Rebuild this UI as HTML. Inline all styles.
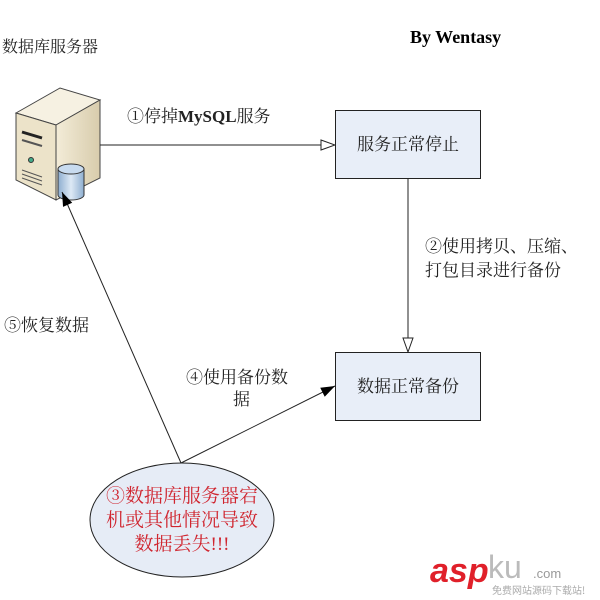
<!DOCTYPE html>
<html><head><meta charset="utf-8"><style>
html,body{margin:0;padding:0;background:#fff;}
svg{display:block;}
.t{font-family:"Liberation Serif","Noto Serif CJK SC","Noto Sans CJK SC",serif;font-size:17px;fill:#222;}
</style></head><body>
<svg width="600" height="600" viewBox="0 0 600 600" xmlns="http://www.w3.org/2000/svg">
<defs>
<marker id="ho" markerWidth="16" markerHeight="12" refX="15" refY="6" orient="auto" markerUnits="userSpaceOnUse">
<path d="M1,1 L15,6 L1,11 Z" fill="#fff" stroke="#222" stroke-width="1"/></marker>
<marker id="fi" markerWidth="16" markerHeight="12" refX="15" refY="6" orient="auto" markerUnits="userSpaceOnUse">
<path d="M1,1 L15,6 L1,11 Z" fill="#000"/></marker>
<linearGradient id="sf" x1="0" x2="1"><stop offset="0" stop-color="#f3ecd8"/><stop offset="1" stop-color="#d8ccac"/></linearGradient>
<linearGradient id="cy" x1="0" x2="1"><stop offset="0" stop-color="#8eaed0"/><stop offset=".5" stop-color="#dde9f5"/><stop offset="1" stop-color="#8eaed0"/></linearGradient>
</defs>
<text x="2" y="52" class="t" style="font-size:16px">数据库服务器</text>
<text x="410" y="43" class="t" style="font-weight:bold;font-size:18px;fill:#000">By Wentasy</text>
<!-- server -->
<polygon points="16,113 60,88 100,100 56,125" fill="#f6f1e2" stroke="#444"/>
<polygon points="16,113 56,125 56,200 16,180" fill="#ece3c9" stroke="#444"/>
<polygon points="56,125 100,100 100,178 56,200" fill="url(#sf)" stroke="#444"/>
<line x1="22" y1="132" x2="42" y2="138" stroke="#222" stroke-width="3"/>
<line x1="22" y1="140" x2="42" y2="146" stroke="#555" stroke-width="2"/>
<circle cx="31" cy="160" r="2.5" fill="#4a8" stroke="#333"/>
<line x1="22" y1="170" x2="42" y2="177" stroke="#555"/>
<line x1="22" y1="174" x2="42" y2="181" stroke="#555"/>
<line x1="22" y1="178" x2="42" y2="185" stroke="#555"/>
<path d="M58,169 L58,195 A13,5 0 0 0 84,195 L84,169 Z" fill="url(#cy)" stroke="#333"/>
<ellipse cx="71" cy="169" rx="13" ry="5" fill="#c8dbef" stroke="#333"/>
<!-- boxes -->
<rect x="335.5" y="110.5" width="145" height="68" fill="#e8eef8" stroke="#222"/>
<text x="408" y="150" text-anchor="middle" class="t">服务正常停止</text>
<rect x="335.5" y="352.5" width="145" height="68" fill="#e8eef8" stroke="#222"/>
<text x="408" y="392" text-anchor="middle" class="t">数据正常备份</text>
<!-- connectors -->
<line x1="100" y1="145" x2="335" y2="145" stroke="#222" marker-end="url(#ho)"/>
<line x1="408" y1="178" x2="408" y2="352" stroke="#222" marker-end="url(#ho)"/>
<line x1="181" y1="463" x2="335" y2="386" stroke="#222" marker-end="url(#fi)"/>
<line x1="181" y1="463" x2="62" y2="192" stroke="#222" marker-end="url(#fi)"/>
<text x="127" y="122" class="t">①停掉<tspan style="font-weight:bold">MySQL</tspan>服务</text>
<text x="425" y="252" class="t">②使用拷贝、压缩、</text>
<text x="425" y="276" class="t">打包目录进行备份</text>
<text x="4" y="331" class="t">⑤恢复数据</text>
<text x="186" y="383" class="t">④使用备份数</text>
<text x="233" y="405" class="t">据</text>
<ellipse cx="182" cy="520" rx="92" ry="57" fill="#e6ecf6" stroke="#222"/>
<text x="182" y="502" text-anchor="middle" class="t" style="fill:#d0252f;font-size:19px">③数据库服务器宕</text>
<text x="182" y="526" text-anchor="middle" class="t" style="fill:#d0252f;font-size:19px">机或其他情况导致</text>
<text x="182" y="550" text-anchor="middle" class="t" style="fill:#d0252f;font-size:19px">数据丢失!!!</text>
<!-- watermark -->
<text x="430" y="582" style="font-family:'Liberation Sans',sans-serif;font-weight:bold;font-style:italic;font-size:34px;fill:#e0202a">asp</text>
<text x="488" y="578" style="font-family:'Liberation Sans',sans-serif;font-size:32px;fill:#bbb">ku</text>
<text x="533" y="578" style="font-family:'Liberation Sans',sans-serif;font-size:13px;fill:#999">.com</text>
<text x="492" y="594" style="font-family:'Noto Sans CJK SC',sans-serif;font-size:10px;fill:#aaa">免费网站源码下载站!</text>
</svg>
</body></html>
